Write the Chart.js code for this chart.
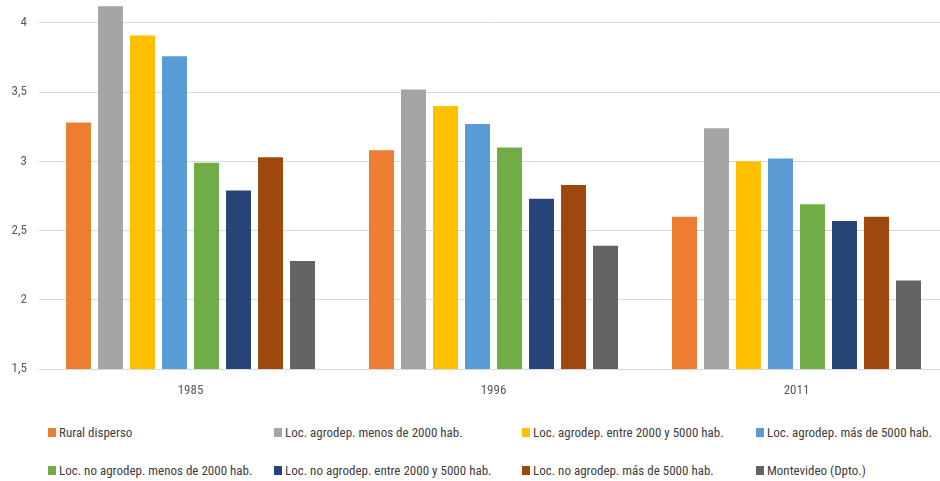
<!DOCTYPE html>
<html>
<head>
<meta charset="utf-8">
<script src="https://cdn.jsdelivr.net/npm/chart.js@4.4.1/dist/chart.umd.min.js"></script>
<style>
  html, body { margin: 0; padding: 0; background: #fff; overflow: hidden; }
  #wrap { position: absolute; left: 0; top: -19px; width: 948px; height: 419px; }
  #legend {
    position: absolute; left: 48px; top: 422px;
    display: grid; grid-template-columns: 226px 248px 234px 180px;
    row-gap: 18px;
    font-family: "Liberation Sans Narrow", "Roboto Condensed", "DejaVu Sans Condensed", sans-serif;
    font-size: 13px; color: #404040;
  }
  .item { display: flex; align-items: center; white-space: nowrap; height: 20px; }
  .box { width: 8px; height: 9px; margin-right: 3px; }
</style>
</head>
<body>
<div id="wrap"><canvas id="chart" width="948" height="419"></canvas></div>
<div id="legend"></div>
<script>
// categories (census years)
var years = ["1985", "1996", "2011"];

// series names and colours
var seriesNames = [
  "Rural disperso",
  "Loc. agrodep. menos de 2000 hab.",
  "Loc. agrodep. entre 2000 y 5000 hab.",
  "Loc. agrodep. más de 5000 hab.",
  "Loc. no agrodep. menos de 2000 hab.",
  "Loc. no agrodep. entre 2000 y 5000 hab.",
  "Loc. no agrodep. más de 5000 hab.",
  "Montevideo (Dpto.)"
];
var seriesColors = ["#ED7D31", "#A5A5A5", "#FFC000", "#5B9BD5", "#70AD47", "#264478", "#9E480E", "#636363"];

// values per series, in order of years
var ruralDisperso      = [3.28, 3.08, 2.60];
var agroMenos2000      = [4.12, 3.52, 3.24];
var agroEntre2000_5000 = [3.91, 3.40, 3.00];
var agroMas5000        = [3.76, 3.27, 3.02];
var noAgroMenos2000    = [2.99, 3.10, 2.69];
var noAgroEntre        = [2.79, 2.73, 2.57];
var noAgroMas5000      = [3.03, 2.83, 2.60];
var montevideo         = [2.28, 2.39, 2.14];

var seriesValues = [ruralDisperso, agroMenos2000, agroEntre2000_5000, agroMas5000,
                    noAgroMenos2000, noAgroEntre, noAgroMas5000, montevideo];

// y axis tick labels
var yTicks = [1.5, 2, 2.5, 3, 3.5, 4];

var font = "'Liberation Sans Narrow', 'Roboto Condensed', 'DejaVu Sans Condensed', sans-serif";

var datasets = seriesNames.map(function(name, i) {
  return {
    label: name,
    data: seriesValues[i],
    backgroundColor: seriesColors[i],
    borderWidth: 0,
    categoryPercentage: 0.845,
    barPercentage: 0.78
  };
});

new Chart("chart", {
  type: "bar",
  data: { labels: years, datasets: datasets },
  options: {
    responsive: false,
    animation: false,
    layout: { padding: 0 },
    plugins: { legend: { display: false }, tooltip: { enabled: false } },
    scales: {
      x: {
        grid: { display: false },
        border: { display: false },
        ticks: { color: "#595959", font: { family: font, size: 13 }, padding: 6 },
        afterFit: function(scale) { scale.height = 31; }
      },
      y: {
        min: 1.5,
        max: 4.16,
        border: { display: false },
        grid: { color: "#d9d9d9", lineWidth: 1, drawTicks: false },
        ticks: {
          color: "#595959",
          font: { family: font, size: 13 },
          padding: 12,
          callback: function(v) { return String(v).replace(".", ","); }
        },
        afterBuildTicks: function(axis) {
          axis.ticks = yTicks.map(function(v) { return { value: v }; });
        },
        afterFit: function(scale) { scale.width = 39; }
      }
    }
  }
});

// legend in 4 columns, built from the series arrays
var legend = document.getElementById("legend");
seriesNames.forEach(function(name, i) {
  var item = document.createElement("div");
  item.className = "item";
  item.innerHTML = '<span class="box" style="background:' + seriesColors[i] + '"></span>' + name;
  legend.appendChild(item);
});
</script>
</body>
</html>
